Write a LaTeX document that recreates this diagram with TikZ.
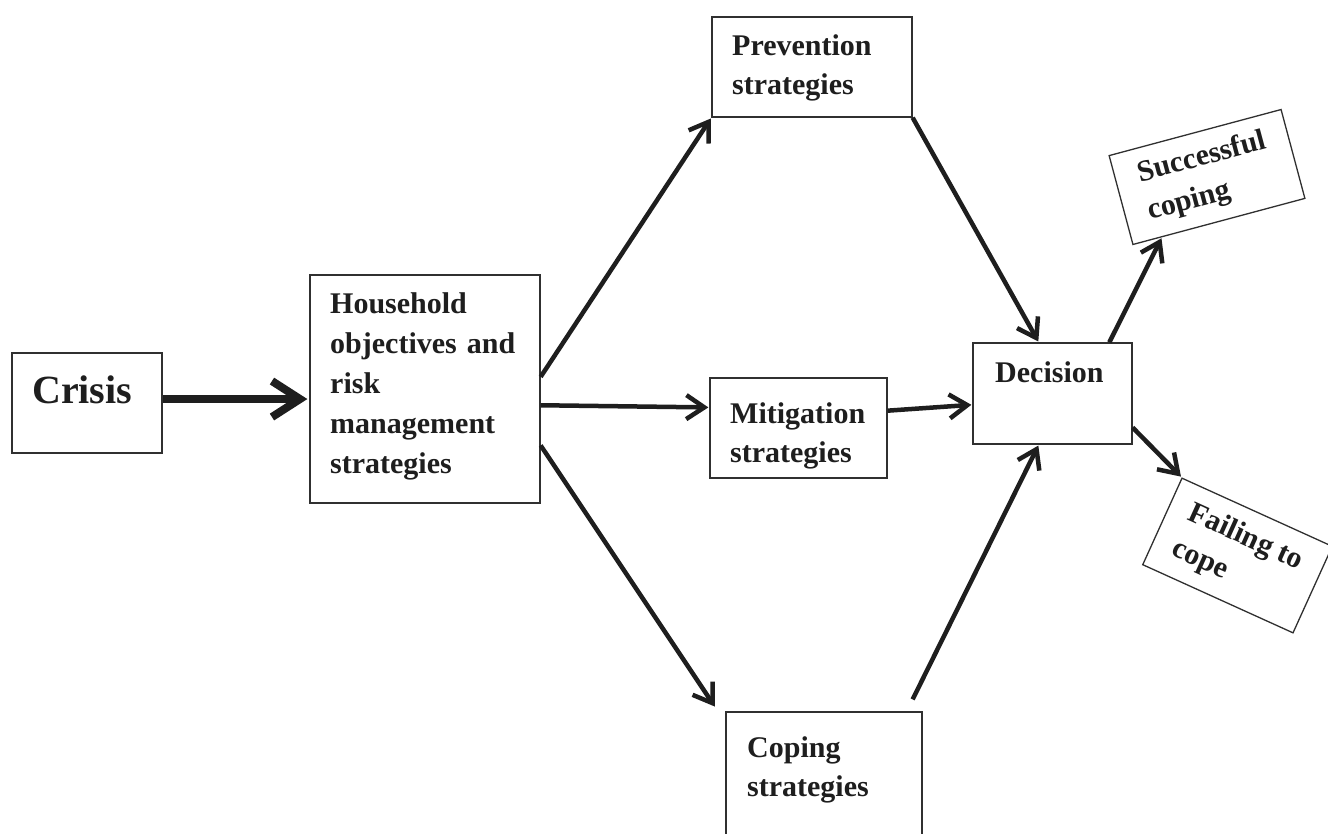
\documentclass[tikz,border=0pt]{standalone}
\usepackage{fontspec}
\setmainfont{Liberation Serif}
\usetikzlibrary{arrows.meta,calc}
\definecolor{inkc}{HTML}{1E1E1E}
\definecolor{boxc}{HTML}{303030}
\begin{document}
\begin{tikzpicture}[x=1pt,y=-1pt,
  box/.style={draw=boxc, line width=1.3pt, inner sep=0pt},
  txt/.style={font=\bfseries\fontsize{30}{39}\selectfont, inner sep=0pt, align=left, text width=260pt, anchor=base west, text=inkc},
  rtxt/.style={font=\bfseries\fontsize{30}{39}\selectfont, align=left, text=inkc},
  arr/.style={draw=inkc, line width=4.5pt, shorten >=1pt, -{Straight Barb[length=18pt,width=24pt]}},
  bigarr/.style={draw=inkc, line width=8pt, shorten >=2pt, -{Straight Barb[length=28pt,width=36pt]}}]
\clip (0,0) rectangle (1328,833);
\fill[white] (0,0) rectangle (1328,833);

% boxes
\node[box, minimum width=150pt, minimum height=100pt] (crisis) at (87,403) {};
\node[box, minimum width=230pt, minimum height=228pt] (hh) at (425,389) {};
\node[box, minimum width=200pt, minimum height=100pt] (pv) at (812,67) {};
\node[box, minimum width=177pt, minimum height=100pt] (mi) at (798.5,428) {};
\node[box, minimum width=159pt, minimum height=101pt] (dc) at (1052.5,393.5) {};
\node[box, minimum width=196pt, minimum height=160pt] (cp) at (824,792) {};
\node[box, rtxt, rotate=15, minimum width=178pt, minimum height=92pt] (sc) at (1207,177) {Successful\\coping};
\node[box, rtxt, rotate=-24.4, minimum width=165pt, minimum height=95pt] (fc) at (1237.5,555.5) {Failing to\\cope};

% texts
\node[txt, font=\bfseries\fontsize{40}{48}\selectfont] (crisist) at (32,403) {Crisis};
\node[txt, font=\bfseries\fontsize{30}{40}\selectfont] (hht) at (330,313) {Household\\objectives and\\risk\\management\\strategies};
\node[txt] (pvt) at (732,55) {Prevention\\strategies};
\node[txt] (mit) at (730,423) {Mitigation\\strategies};
\node[txt] (dct) at (995,382) {Decision};
\node[txt] (cpt) at (747,757) {Coping\\strategies};

% connectors
\draw[bigarr] (crisis.3) -- (crisis.3 -| hh.west);
\draw[arr] (hh.6) -- (pv.south west);
\draw[arr] (hh.-8) -- (mi.167);
\draw[arr] (hh.-26) -- ([shift={(-10,-4)}]cp.north west);
\draw[arr] (pv.south east) -- (dc.105);
\draw[arr] (mi.11) -- (dc.188);
\draw[arr] ([shift={(-10,-12)}]cp.north east) -- (dc.255);
\draw[arr] (dc.42) -- ($(sc.south west)!0.17!(sc.south east)$);
\draw[arr] (dc.-23) -- (fc.north west);
\end{tikzpicture}
\end{document}
